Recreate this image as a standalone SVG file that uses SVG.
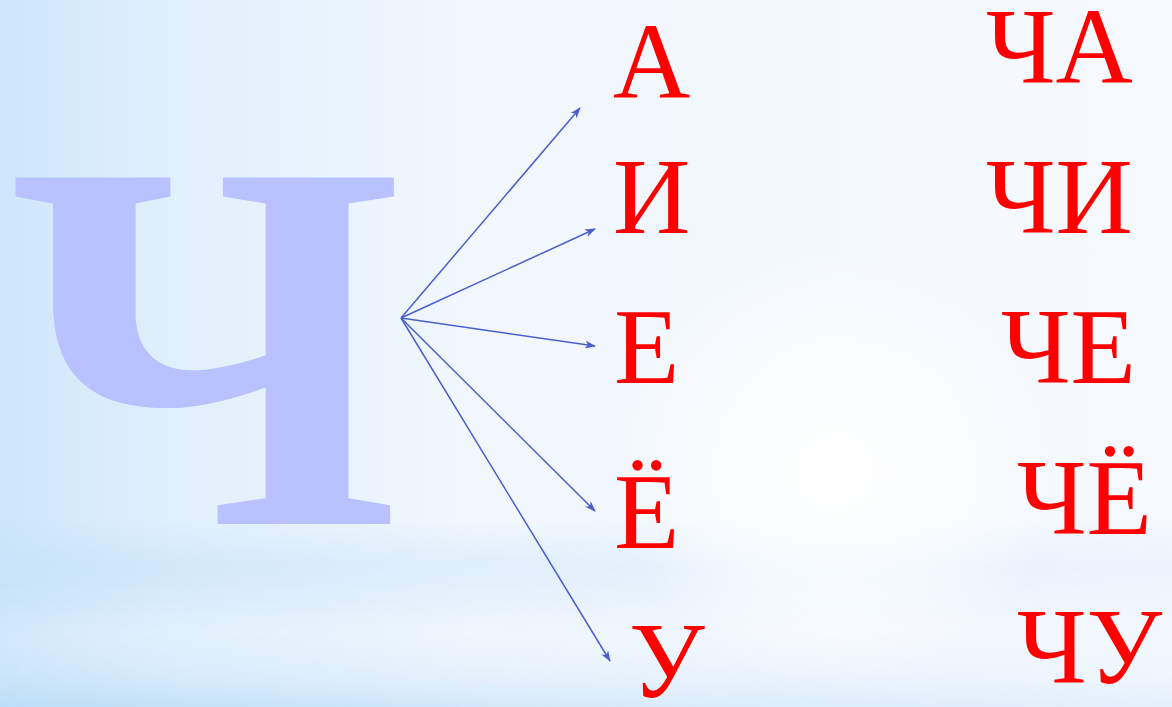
<svg xmlns="http://www.w3.org/2000/svg" width="1172" height="707" viewBox="0 0 1172 707">
<defs>
<linearGradient id="bgH" x1="0" y1="0" x2="1" y2="0">
<stop offset="0" stop-color="#CDE6FB"/>
<stop offset="0.15" stop-color="#E0F0FC"/>
<stop offset="0.4" stop-color="#F1F7FD"/>
<stop offset="1" stop-color="#F6F9FE"/>
</linearGradient>
<linearGradient id="bandV" x1="0" y1="0" x2="0" y2="1">
<stop offset="0" stop-color="#C4E1F8" stop-opacity="0"/>
<stop offset="0.25" stop-color="#C4E1F8" stop-opacity="0.6"/>
<stop offset="0.45" stop-color="#C4E1F8" stop-opacity="0.3"/>
<stop offset="0.6" stop-color="#E4F1FC" stop-opacity="0.2"/>
<stop offset="0.85" stop-color="#C4E1F8" stop-opacity="0.45"/>
<stop offset="1" stop-color="#B9DCF7" stop-opacity="0.85"/>
</linearGradient>
<linearGradient id="bandFade" x1="0" y1="0" x2="1" y2="0">
<stop offset="0" stop-color="#fff" stop-opacity="1"/>
<stop offset="0.6" stop-color="#fff" stop-opacity="0.5"/>
<stop offset="1" stop-color="#fff" stop-opacity="0.35"/>
</linearGradient>
<mask id="bandMask">
<rect x="0" y="520" width="1172" height="187" fill="url(#bandFade)"/>
</mask>
<radialGradient id="glow" cx="835" cy="470" r="220" gradientUnits="userSpaceOnUse">
<stop offset="0" stop-color="#FFFFFF" stop-opacity="1"/>
<stop offset="0.6" stop-color="#FFFFFF" stop-opacity="0.5"/>
<stop offset="1" stop-color="#FFFFFF" stop-opacity="0"/>
</radialGradient>
<marker id="arr" markerWidth="12" markerHeight="10" refX="10" refY="4" orient="auto" markerUnits="userSpaceOnUse">
<path d="M0,0 L11,4 L0,8 L3,4 z" fill="#4A5FCC"/>
</marker>
<style>
.big{font-family:"Liberation Serif","Times New Roman",serif;font-weight:bold;fill:#B9C1FF;}
.lt{font-family:"Liberation Serif","Times New Roman",serif;font-size:107px;fill:#FF0000;}
.conn line{stroke:#4A5FCC;stroke-width:1.5;marker-end:url(#arr);}
</style>
</defs>
<rect width="1172" height="707" fill="url(#bgH)"/>
<rect x="0" y="520" width="1172" height="187" fill="url(#bandV)" mask="url(#bandMask)"/>
<rect width="1172" height="707" fill="url(#glow)"/>

<g id="node-ch">
<text class="big" x="9" y="524" font-size="529" textLength="394" lengthAdjust="spacingAndGlyphs">Ч</text>
</g>

<g id="connectors" class="conn">
<line x1="401" y1="318" x2="580" y2="108"/>
<line x1="401" y1="318" x2="595" y2="229"/>
<line x1="401" y1="318" x2="595" y2="346"/>
<line x1="401" y1="318" x2="595" y2="511"/>
<line x1="401" y1="318" x2="610" y2="661"/>
</g>

<g id="node-a"><text class="lt" x="613" y="98">А</text></g>
<g id="node-i"><text class="lt" x="613" y="233">И</text></g>
<g id="node-e"><text class="lt" x="614" y="383">Е</text></g>
<g id="node-yo"><text class="lt" x="614" y="548">Ё</text></g>
<g id="node-u"><text class="lt" x="629" y="697">У</text></g>

<g id="node-cha"><text class="lt" x="986" y="83">ЧА</text></g>
<g id="node-chi"><text class="lt" x="986" y="233">ЧИ</text></g>
<g id="node-che"><text class="lt" x="1001" y="383">ЧЕ</text></g>
<g id="node-chyo"><text class="lt" x="1017" y="534">ЧЁ</text></g>
<g id="node-chu"><text class="lt" x="1017" y="683">ЧУ</text></g>
</svg>
